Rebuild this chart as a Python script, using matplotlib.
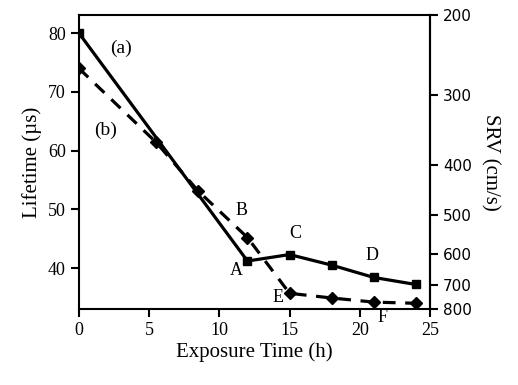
import matplotlib
matplotlib.use("Agg")
import matplotlib.pyplot as plt
import numpy as np

# series (a): solid line, squares
time_a = [0, 12, 15, 18, 21, 24]
life_a = [80.0, 41.2, 42.3, 40.5, 38.4, 37.2]

# series (b): dashed line, diamonds
time_b = [0, 5.5, 8.5, 12, 15, 18, 21, 24]
life_b = [74.0, 61.4, 53.1, 45.2, 35.7, 34.9, 34.2, 34.0]

# point letters
letters = ["A", "B", "C", "D", "E", "F"]
letter_t = [11.2, 11.6, 15.4, 20.9, 14.2, 21.6]
letter_L = [39.6, 49.8, 45.9, 42.2, 35.0, 31.6]

# SRV axis calibration (SRV value -> lifetime where it sits)
srv_ticks = [200, 300, 400, 500, 600, 700, 800]
srv_life = [83.1, 69.6, 57.7, 49.2, 42.6, 37.2, 33.15]

serif = "Liberation Serif"

fig = plt.figure(figsize=(5.18, 3.85), dpi=100)
ax = fig.add_axes([0.1525, 0.197, 0.6775, 0.764])

ax.plot(time_a, life_a, color="black", lw=2.3, marker="s", ms=6, zorder=3)
ax.plot(time_b, life_b, color="black", lw=2.3, ls=(0, (4, 3)), marker="D", ms=6, zorder=3)

ax.set_xlim(0, 25)
ax.set_ylim(33, 83.1)
ax.set_xticks([0, 5, 10, 15, 20, 25])
ax.set_yticks([40, 50, 60, 70, 80])
ax.tick_params(direction="out", length=6, width=1.5, labelsize=13)
for lab in ax.get_xticklabels() + ax.get_yticklabels():
    lab.set_family(serif)
for s in ax.spines.values():
    s.set_linewidth(1.5)

ax.set_xlabel("Exposure Time (h)", family=serif, fontsize=15, labelpad=2)
ax.set_ylabel("Lifetime (µs)", family=serif, fontsize=15, labelpad=4)

ax.text(3.0, 77.4, "(a)", family=serif, fontsize=14, ha="center", va="center")
ax.text(1.9, 63.5, "(b)", family=serif, fontsize=14, ha="center", va="center")
for name, t, L in zip(letters, letter_t, letter_L):
    ax.text(t, L, name, family=serif, fontsize=13, ha="center", va="center", clip_on=False)

life_asc = srv_life[::-1]
srv_desc = srv_ticks[::-1]


def to_srv(L):
    return np.interp(L, life_asc, srv_desc)


def to_life(S):
    return np.interp(S, srv_ticks, srv_life)


sec = ax.secondary_yaxis("right", functions=(to_srv, to_life))
sec.set_yticks(srv_ticks)
sec.tick_params(direction="out", length=6, width=1.5, labelsize=11)
sec.spines["right"].set_linewidth(1.5)
sec.set_ylabel("SRV (cm/s)", family=serif, fontsize=15, rotation=270, labelpad=20)

fig.savefig("out.png", dpi=100)
